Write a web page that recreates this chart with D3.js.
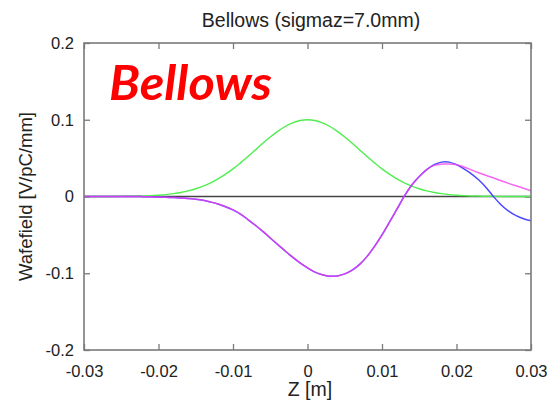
<!DOCTYPE html>
<html>
<head>
<meta charset="utf-8">
<script src="https://cdn.jsdelivr.net/npm/d3@7"></script>
<style>
  html, body { margin: 0; padding: 0; background: #fff; }
  svg { display: block; }
  text { font-family: "Liberation Sans", Arial, sans-serif; fill: #222; }
</style>
</head>
<body>
<script>
// Longitudinal position (mm) of each sample
const zMM = d3.range(-30, 31);

// Bunch profile (Gaussian, sigma_z = 7 mm), V/pC/mm
const bunch = [
  0, 0, 0, 0, 0.0001, 0.0002, 0.0003, 0.0005, 0.0007, 0.0011,
  0.0017, 0.0025, 0.0037, 0.0052, 0.0073, 0.0101, 0.0135, 0.0178, 0.0230, 0.0291,
  0.0360, 0.0438, 0.0520, 0.0607, 0.0693, 0.0775, 0.0849, 0.0912, 0.0960, 0.0990,
  0.1000,
  0.0990, 0.0960, 0.0912, 0.0849, 0.0775, 0.0693, 0.0607, 0.0520, 0.0438, 0.0360,
  0.0291, 0.0230, 0.0178, 0.0135, 0.0101, 0.0073, 0.0052, 0.0037, 0.0025, 0.0017,
  0.0011, 0.0007, 0.0005, 0.0003, 0.0002, 0.0001, 0, 0, 0, 0
];

// Wake potential, first calculation
const wakeA = [
  0, 0, 0, 0, 0, 0, 0, 0, -0.0002, -0.0004,
  -0.0007, -0.0010, -0.0014, -0.0019, -0.0026, -0.0036, -0.0050, -0.0072, -0.0098, -0.0133,
  -0.0175, -0.0230, -0.0300, -0.0375, -0.0455, -0.0540, -0.0625, -0.0710, -0.0790, -0.0865,
  -0.0930,
  -0.0985, -0.1020, -0.1038, -0.1035, -0.1008, -0.0960, -0.0885, -0.0780, -0.0650, -0.0500,
  -0.0335, -0.0165, 0.0005, 0.0150, 0.0260, 0.0350, 0.0415, 0.0448, 0.0448, 0.0415,
  0.0360, 0.0295, 0.0215, 0.0115, -0.0005, -0.0110, -0.0190, -0.0250, -0.0290, -0.0315
];

// Wake potential, second calculation
const wakeB = [
  0, 0, 0, 0, 0, 0, 0, 0, -0.0002, -0.0004,
  -0.0007, -0.0010, -0.0014, -0.0019, -0.0026, -0.0036, -0.0050, -0.0072, -0.0098, -0.0133,
  -0.0175, -0.0230, -0.0300, -0.0375, -0.0455, -0.0540, -0.0625, -0.0710, -0.0790, -0.0865,
  -0.0930,
  -0.0985, -0.1020, -0.1038, -0.1035, -0.1008, -0.0960, -0.0885, -0.0780, -0.0650, -0.0500,
  -0.0335, -0.0165, 0.0005, 0.0150, 0.0260, 0.0350, 0.0405, 0.0422, 0.0424, 0.0413,
  0.0385, 0.0347, 0.0309, 0.0274, 0.0240, 0.0205, 0.0171, 0.0139, 0.0107, 0.0076
];

const xTicks = [-0.03, -0.02, -0.01, 0, 0.01, 0.02, 0.03];
const xTickLabels = ["-0.03", "-0.02", "-0.01", "0", "0.01", "0.02", "0.03"];
const yTicks = [-0.2, -0.1, 0, 0.1, 0.2];
const yTickLabels = ["-0.2", "-0.1", "0", "0.1", "0.2"];

const W = 550, H = 401;
const margin = { left: 84, right: 19, top: 43, bottom: 51 };
const iw = W - margin.left - margin.right;
const ih = H - margin.top - margin.bottom;

const svg = d3.select("body").append("svg").attr("width", W).attr("height", H);
const g = svg.append("g").attr("transform", `translate(${margin.left},${margin.top})`);

const x = d3.scaleLinear().domain([-0.03, 0.03]).range([0, iw]);
const y = d3.scaleLinear().domain([-0.2, 0.2]).range([ih, 0]);

const frameColor = "#7a7a7a";

// Axes with inward ticks, mirrored on the opposite sides
const xb = d3.axisBottom(x).tickValues(xTicks).tickFormat((d, i) => xTickLabels[i])
  .tickSizeInner(-6).tickSizeOuter(0).tickPadding(15);
const xt = d3.axisTop(x).tickValues(xTicks).tickFormat("").tickSizeInner(-6).tickSizeOuter(0);
const yl = d3.axisLeft(y).tickValues(yTicks).tickFormat((d, i) => yTickLabels[i])
  .tickSizeInner(-6).tickSizeOuter(0).tickPadding(10);
const yr = d3.axisRight(y).tickValues(yTicks).tickFormat("").tickSizeInner(-6).tickSizeOuter(0);

function style(sel) {
  sel.select(".domain").remove();
  sel.selectAll(".tick line").attr("stroke", frameColor).attr("stroke-width", 1.3);
  sel.selectAll(".tick text").attr("font-size", 16.5).attr("fill", "#222")
    .style("font-family", "'Liberation Sans', Arial, sans-serif");
}
g.append("g").attr("transform", `translate(0,${ih})`).call(xb).call(style);
g.append("g").call(xt).call(style);
g.append("g").call(yl).call(style);
g.append("g").attr("transform", `translate(${iw},0)`).call(yr).call(style);

// zero line
g.append("line")
  .attr("x1", x(-0.03)).attr("x2", x(0.03))
  .attr("y1", y(0)).attr("y2", y(0))
  .attr("stroke", "#444").attr("stroke-width", 1.4);

const line = d3.line()
  .x((d, i) => x(zMM[i] / 1000))
  .y(d => y(d))
  .curve(d3.curveCatmullRom);

g.append("path").datum(bunch).attr("d", line)
  .attr("fill", "none").attr("stroke", "#4fee4f").attr("stroke-width", 1.4);
g.append("path").datum(wakeA).attr("d", line)
  .attr("fill", "none").attr("stroke", "#4a4aff").attr("stroke-width", 1.5);
g.append("path").datum(wakeB).attr("d", line)
  .attr("fill", "none").attr("stroke", "#f23cf2").attr("stroke-width", 1.5)
  .attr("stroke-opacity", 0.78);

// frame
g.append("rect").attr("x", 0).attr("y", 0).attr("width", iw).attr("height", ih)
  .attr("fill", "none").attr("stroke", frameColor).attr("stroke-width", 1.6);

// title and axis labels
svg.append("text").attr("x", 311).attr("y", 27).attr("text-anchor", "middle")
  .attr("font-size", 19.5).text("Bellows (sigmaz=7.0mm)");
svg.append("text").attr("x", 310).attr("y", 396).attr("text-anchor", "middle")
  .attr("font-size", 19.5).text("Z [m]");
svg.append("text")
  .attr("transform", `translate(32,${margin.top + ih / 2}) rotate(-90)`)
  .attr("text-anchor", "middle").attr("font-size", 18.5).text("Wafefield [V/pC/mm]");

// big red caption
svg.append("text").attr("x", 109).attr("y", 100)
  .attr("font-size", 47).attr("font-weight", "bold").attr("font-style", "italic")
  .attr("textLength", 163).attr("lengthAdjust", "spacingAndGlyphs")
  .style("font-family", "Lato, 'Open Sans', sans-serif").style("fill", "#ff0000")
  .text("Bellows");
</script>
</body>
</html>
